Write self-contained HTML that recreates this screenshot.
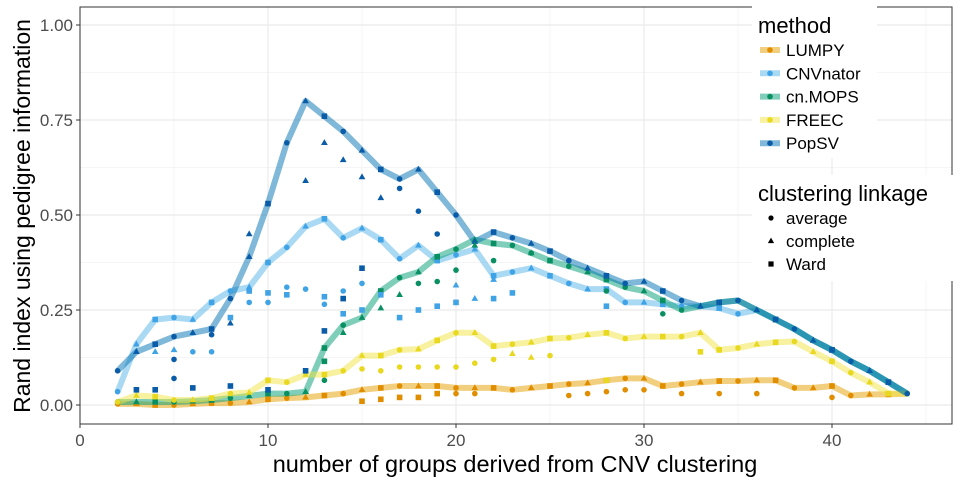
<!DOCTYPE html>
<html><head><meta charset="utf-8"><style>
html,body{margin:0;padding:0;background:#fff;}
svg{display:block;font-family:"Liberation Sans",sans-serif;}
</style></head><body>
<svg id="chart" width="960" height="480">
<g id="grid"></g>
<g id="lines"></g>
<g id="pts"></g>
<rect x="80" y="7" width="872" height="417" fill="none" stroke="#333" stroke-width="1"/>
<g id="axes"></g>
<text x="515" y="472" font-size="23.5" text-anchor="middle" fill="#000">number of groups derived from CNV clustering</text>
<text transform="translate(30,216) rotate(-90)" font-size="23" text-anchor="middle" fill="#000">Rand index using pedigree information</text>
<g id="legend"></g>
</svg>
<script>
const xs = [2,3,4,5,6,7,8,9,10,11,12,13,14,15,16,17,18,19,20,21,22,23,24,25,26,27,28,29,30,31,32,33,34,35,36,37,38,39,40,41,42,43,44];
const methods = ["LUMPY","CNVnator","cn.MOPS","FREEC","PopSV"];
const colors = ["#E69F00","#56B4E9","#009E73","#F0E442","#0072B2"];
const ptColors = ["#e08e00","#3fa3e6","#0a8f63","#e8d820","#0a5ca8"];
const lumpy = [0.003,0.003,0,0,0.003,0.005,0.005,0.008,0.015,0.018,0.02,0.025,0.03,0.04,0.045,0.05,0.05,0.05,0.045,0.045,0.045,0.04,0.045,0.05,0.055,0.058,0.065,0.07,0.07,0.05,0.055,0.06,0.063,0.063,0.065,0.065,0.045,0.045,0.05,0.025,0.028,0.028,0.03];
const cnvnator = [0.035,0.16,0.225,0.23,0.225,0.27,0.3,0.31,0.375,0.415,0.47,0.49,0.44,0.465,0.435,0.385,0.42,0.38,0.395,0.41,0.34,0.35,0.36,0.34,0.32,0.305,0.305,0.27,0.27,0.265,0.26,0.26,0.255,0.24,0.25,0.225,0.2,0.17,0.145,0.115,0.09,0.06,0.03];
const cnmops = [0.008,0.008,0.008,0.008,0.01,0.013,0.018,0.024,0.03,0.03,0.035,0.15,0.21,0.23,0.3,0.335,0.35,0.39,0.41,0.435,0.425,0.42,0.4,0.38,0.365,0.35,0.33,0.31,0.3,0.275,0.25,0.26,0.27,0.275,0.25,0.225,0.2,0.17,0.145,0.115,0.09,0.06,0.03];
const freec = [0.008,0.025,0.022,0.013,0.013,0.018,0.03,0.033,0.065,0.06,0.08,0.08,0.09,0.13,0.13,0.145,0.147,0.17,0.19,0.19,0.155,0.16,0.165,0.175,0.177,0.185,0.19,0.175,0.18,0.18,0.18,0.19,0.145,0.15,0.16,0.165,0.167,0.14,0.115,0.085,0.06,0.03,0.03];
const popsv = [0.09,0.14,0.16,0.18,0.19,0.2,0.28,0.39,0.53,0.69,0.8,0.76,0.72,0.67,0.62,0.595,0.62,0.56,0.5,0.43,0.455,0.44,0.425,0.405,0.38,0.36,0.34,0.32,0.325,0.3,0.275,0.26,0.27,0.275,0.25,0.225,0.2,0.17,0.145,0.115,0.09,0.06,0.03];
const series = [lumpy,cnvnator,cnmops,freec,popsv];
const extraM = [4,4,4,4,4,4,4,4,4,4,4,4,4,4,4,4,4,4,4,4,4,4,1,1,1,1,1,1,1,1,1,1,1,1,1,1,1,1,1,1,1,1,1,1,1,1,1,1,1,1,1,2,2,2,2,2,2,2,2,2,2,2,2,2,3,3,3,3,3,3,3,3,3,3,3,3,3,0,0,0,0,0,0,0,0,0,0,0,0,0,0,0,0];
const extraX = [12,13,14,15,16,17,18,19,9,8,7,5,5,15,14,13,12,3,4,6,8,10,4,5,6,7,8,9,9,10,10,11,11,12,13,13,14,14,15,15,16,17,18,19,20,20,21,22,22,23,28,13,13,14,16,17,18,19,20,21,22,24,28,31,15,16,17,18,19,20,21,22,23,24,25,28,33,15,16,17,18,19,20,21,26,27,28,29,30,32,34,36,40];
const extraV = [0.59,0.69,0.645,0.6,0.545,0.57,0.51,0.45,0.45,0.215,0.185,0.12,0.07,0.36,0.28,0.195,0.09,0.04,0.04,0.045,0.05,0.04,0.14,0.145,0.14,0.14,0.23,0.3,0.27,0.295,0.27,0.31,0.29,0.305,0.285,0.265,0.3,0.24,0.32,0.25,0.29,0.23,0.25,0.26,0.315,0.27,0.28,0.33,0.28,0.295,0.26,0.115,0.065,0.19,0.255,0.29,0.32,0.325,0.355,0.42,0.38,0.4,0.3,0.24,0.095,0.09,0.1,0.1,0.1,0.1,0.11,0.12,0.135,0.125,0.13,0.065,0.14,0.01,0.015,0.02,0.02,0.03,0.03,0.03,0.025,0.03,0.035,0.04,0.04,0.03,0.03,0.03,0.02];
const extraS = [1,1,1,1,1,0,0,0,1,1,0,0,0,2,2,2,2,2,2,2,2,2,1,1,0,0,2,2,0,2,0,0,2,0,2,0,0,2,0,2,2,2,2,2,1,2,1,1,2,2,2,2,0,1,1,1,0,0,0,1,0,0,0,0,0,0,0,0,0,0,0,0,1,1,0,2,2,2,2,2,2,2,0,0,0,0,0,0,0,0,0,0,0];
const xTicks = [0,10,20,30,40];
const yTicks = [0,0.25,0.5,0.75,1.0];
const yLabels = ["0.00","0.25","0.50","0.75","1.00"];

const NS="http://www.w3.org/2000/svg";
function X(v){return 80+18.8*v;}
function Y(v){return 405-380*v;}
function mk(tag,attrs,parent){const e=document.createElementNS(NS,tag);for(const k in attrs)e.setAttribute(k,attrs[k]);parent.appendChild(e);return e;}
const grid=document.getElementById('grid');
for(let v=5;v<=45;v+=10){const l=mk('line',{x1:X(v),x2:X(v),y1:7,y2:424,stroke:'#f2f2f2','stroke-width':0.8},grid);

}
for(let v=0.125;v<1.1;v+=0.25){const l=mk('line',{x1:80,x2:952,y1:Y(v),y2:Y(v),stroke:'#f2f2f2','stroke-width':0.8},grid);

}
const axes=document.getElementById('axes');
xTicks.forEach(t=>{const l=mk('line',{x1:X(t),x2:X(t),y1:7,y2:424,stroke:'#ebebeb','stroke-width':1.2},grid);


const tk=mk('line',{x1:X(t),x2:X(t),y1:424,y2:428,stroke:'#333'},axes);


const tx=mk('text',{x:X(t),y:446,'font-size':17,'text-anchor':'middle',fill:'#4d4d4d'},axes);tx.textContent=t;

});
yTicks.forEach((t,i)=>{const l=mk('line',{x1:80,x2:952,y1:Y(t),y2:Y(t),stroke:'#ebebeb','stroke-width':1.2},grid);


const tk=mk('line',{x1:76,x2:80,y1:Y(t),y2:Y(t),stroke:'#333'},axes);


const tx=mk('text',{x:73,y:Y(t)+6,'font-size':17,'text-anchor':'end',fill:'#4d4d4d'},axes);tx.textContent=yLabels[i];

});
function shape(s,cx,cy,col,parent,r){r=r||2.8;let e;
if(s===0)e=mk('circle',{cx:cx,cy:cy,r:r,fill:col},parent);
else if(s===1)e=mk('polygon',{points:`${cx},${cy-r*1.3} ${cx-r*1.2},${cy+r*0.8} ${cx+r*1.2},${cy+r*0.8}`,fill:col},parent);
else e=mk('rect',{x:cx-r,y:cy-r,width:2*r,height:2*r,fill:col},parent);return e;}
const lines=document.getElementById('lines'),pts=document.getElementById('pts');
series.forEach((s,mi)=>{const d=s.map((v,i)=>(i?'L':'M')+X(xs[i])+','+Y(v)).join(' ');
const p=mk('path',{d:d,fill:'none',stroke:colors[mi],'stroke-opacity':0.5,'stroke-width':6,'stroke-linejoin':'round'},lines);


s.forEach((v,i)=>{const e=shape(i%3,X(xs[i]),Y(v),ptColors[mi],pts);

});});
extraM.forEach((m,i)=>{const e=shape(extraS[i],X(extraX[i]),Y(extraV[i]),ptColors[m],pts);

});
const lg=document.getElementById('legend');
const b1=mk('rect',{x:752,y:0,width:125,height:158,fill:'#fff'},lg);


const b2=mk('rect',{x:752,y:175,width:208,height:106,fill:'#fff'},lg);


const t1=mk('text',{x:758,y:33,'font-size':22},lg);t1.textContent='method';


methods.forEach((m,i)=>{const cy=50+23.3*i;
const l=mk('line',{x1:760,x2:780,y1:cy,y2:cy,stroke:colors[i],'stroke-opacity':0.5,'stroke-width':6},lg);


const c=mk('circle',{cx:770,cy:cy,r:2.8,fill:ptColors[i]},lg);


const t=mk('text',{x:786,y:cy+6,'font-size':17},lg);t.textContent=m;

});
const t2=mk('text',{x:758,y:201,'font-size':22},lg);t2.textContent='clustering linkage';


['average','complete','Ward'].forEach((n,i)=>{const cy=218+23*i;
const e=shape(i,771,cy,'#000',lg,2.6);


const t=mk('text',{x:786,y:cy+6,'font-size':17},lg);t.textContent=n;

});
</script>
</body></html>
